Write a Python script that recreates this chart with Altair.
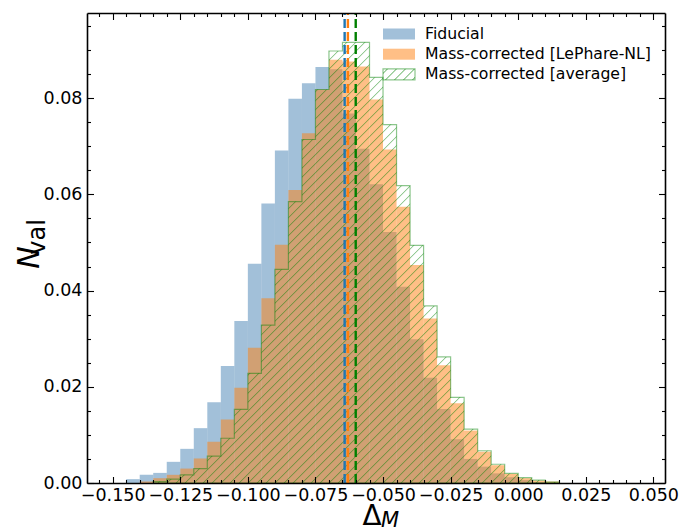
import numpy as np
import pandas as pd
import altair as alt

# ---------------- data ----------------
SERIES = ["Fiducial", "Mass-corrected [LePhare-NL]", "Mass-corrected [average]"]
BIN_START = [-0.150, -0.145, -0.140, -0.135, -0.130, -0.125, -0.120, -0.115, -0.110, -0.105,
             -0.100, -0.095, -0.090, -0.085, -0.080, -0.075, -0.070, -0.065, -0.060, -0.055,
             -0.050, -0.045, -0.040, -0.035, -0.030, -0.025, -0.020, -0.015, -0.010, -0.005,
             0.000, 0.005, 0.010]
BIN_WIDTH = 0.005
FIDUCIAL = [0.0, 0.0008, 0.0017, 0.0021, 0.0044, 0.0071, 0.0114, 0.0168, 0.0243, 0.0337,
            0.0456, 0.0581, 0.0691, 0.0799, 0.0831, 0.0865, 0.0860, 0.0768, 0.0695, 0.0621,
            0.0522, 0.0408, 0.0299, 0.0219, 0.0154, 0.0091, 0.0050, 0.0034, 0.0020, 0.0012,
            0.0006, 0.0002, 0.0]
LEPHARE = [0.0, 0.0, 0.0003, 0.0010, 0.0017, 0.0030, 0.0051, 0.0086, 0.0132, 0.0198,
           0.0281, 0.0384, 0.0495, 0.0609, 0.0727, 0.0818, 0.0880, 0.0876, 0.0866, 0.0797,
           0.0693, 0.0574, 0.0453, 0.0342, 0.0245, 0.0166, 0.0109, 0.0065, 0.0037, 0.0019,
           0.0010, 0.0005, 0.0003]
AVERAGE = [0.0, 0.0, 0.0, 0.0003, 0.0008, 0.0017, 0.0030, 0.0056, 0.0093, 0.0153,
           0.0228, 0.0328, 0.0444, 0.0585, 0.0714, 0.0818, 0.0898, 0.0916, 0.0916, 0.0843,
           0.0745, 0.0618, 0.0494, 0.0368, 0.0262, 0.0178, 0.0112, 0.0067, 0.0039, 0.0020,
           0.0011, 0.0006, 0.0002]
MEANS = [-0.0642, -0.0630, -0.0601]

X_MAJOR = [-0.150, -0.125, -0.100, -0.075, -0.050, -0.025, 0.000, 0.025, 0.050]
Y_MAJOR = [0.00, 0.02, 0.04, 0.06, 0.08]
X_DOMAIN = [-0.1595, 0.0543]
Y_DOMAIN = [0.0, 0.0977]
X_TITLE, X_SUB = "Δ", "M"
Y_TITLE, Y_SUB = "N", "val"

# ---------------- layout / style ----------------
W, H = 578, 470
FONT = "DejaVu Sans"
BLUE_FILL = "rgba(70,130,180,0.5)"
ORANGE_FILL = "rgba(255,127,14,0.5)"
HATCH = "rgba(0,128,0,0.42)"
EDGE = "rgba(0,128,0,0.45)"
CLEAR = "rgba(0,128,0,0)"
LINE_COLORS = ["#1f77b4", "#ff7f0e", "#008000"]

X_MINOR = np.round(np.arange(-0.155, 0.0501, 0.005), 3).tolist()
Y_MINOR = np.round(np.arange(0.0, 0.0951, 0.005), 3).tolist()
X_TICK_EXPR = "abs(round(datum.value*1000)) % 25 == 0 ? 6.5 : 3.5"
Y_TICK_EXPR = "abs(round(datum.value*1000)) % 20 == 0 ? 6.5 : 3.5"


def hatch_stops(L, spacing, half):
    stops = [{"offset": 0.0, "color": CLEAR}]
    c = spacing * 0.5
    while c + half < L:
        for off, col in ((c - half, CLEAR), (c - half * 0.3, HATCH),
                         (c + half * 0.3, HATCH), (c + half, CLEAR)):
            stops.append({"offset": round(min(1.0, max(0.0, off / L)), 5), "color": col})
        c += spacing
    stops.append({"offset": 1.0, "color": CLEAR})
    return stops


def hatch_geometry(bw, bh):
    L = bw + bh
    k = L / (bw * bw + bh * bh)
    return L, k * bw, k * bh


# ---------------- tables ----------------
n = len(BIN_START)
bars_df = pd.DataFrame({
    "series": [SERIES[0]] * n + [SERIES[1]] * n,
    "start": BIN_START * 2,
    "end": [s + BIN_WIDTH for s in BIN_START] * 2,
    "value": FIDUCIAL + LEPHARE,
})
bars_df = bars_df[bars_df["value"] > 0]

nz = [i for i, v in enumerate(AVERAGE) if v > 0]
i0, i1 = nz[0], nz[-1]
area_df = pd.DataFrame({
    "x": BIN_START[i0:i1 + 1] + [BIN_START[i1] + BIN_WIDTH],
    "y": AVERAGE[i0:i1 + 1] + [AVERAGE[i1]],
})

px_x = W / (X_DOMAIN[1] - X_DOMAIN[0])
px_y = H / (Y_DOMAIN[1] - Y_DOMAIN[0])
bw = (area_df["x"].max() - area_df["x"].min()) * px_x
bh = max(AVERAGE) * px_y
L, gx2, gy2 = hatch_geometry(bw, bh)
AREA_GRADIENT = {"gradient": "linear", "x1": 0, "y1": 0, "x2": gx2, "y2": gy2,
                 "stops": hatch_stops(L, 9.0, 1.15)}

# legend swatch gradient (32 x 11 px swatch)
SW, SH = 32.0, 11.0
Ls, lx2, ly2 = hatch_geometry(SW, SH)
leg_stops = hatch_stops(Ls, 9.0, 1.15)
LEG_EXPR = "{gradient: 'linear', x1: 0, y1: 0, x2: %.5f, y2: %.5f, stops: [%s]}" % (
    lx2, ly2, ", ".join("{offset: %.5f, color: '%s'}" % (s["offset"], s["color"]) for s in leg_stops))

rules_df = pd.DataFrame({"series": SERIES, "mean": MEANS})

# ---------------- scales / axes ----------------
xs = alt.Scale(domain=X_DOMAIN, nice=False, zero=False)
ys = alt.Scale(domain=Y_DOMAIN, nice=False, zero=True)

common = dict(grid=False, zindex=1, domainColor="black", domainWidth=1.6,
              tickColor="black", tickWidth=1.1)

x_label_axis = alt.Axis(orient="bottom", values=X_MAJOR, format=".3f", ticks=False, tickSize=0,
                        domain=True, labelFont=FONT, labelFontSize=17.5, labelColor="black",
                        labelPadding=3, labelFlush=False, labelOverlap=False,
                        title=X_TITLE, titleFont=FONT, titleFontSize=28, titleFontWeight="normal",
                        titleColor="black", titleX=284.5, titleY=33, titleAlign="center",
                        titleBaseline="middle", titleAngle=0, **common)
y_label_axis = alt.Axis(orient="left", values=Y_MAJOR, format=".2f", ticks=False, tickSize=0,
                        domain=True, labelFont=FONT, labelFontSize=17.5, labelColor="black",
                        labelPadding=5, labelFlush=False, labelOverlap=False,
                        title=Y_TITLE, titleFont=FONT, titleFontSize=30, titleFontWeight="normal",
                        titleFontStyle="italic", titleColor="black", titleX=-57.5, titleY=244,
                        titleAlign="center", titleBaseline="middle", titleAngle=270, **common)
x_bottom_ticks = alt.Axis(orient="top", offset=-H, values=X_MINOR, tickSize={"expr": X_TICK_EXPR},
                          labels=False, domain=False, title=None, **common)
y_left_ticks = alt.Axis(orient="right", offset=-W, values=Y_MINOR, tickSize={"expr": Y_TICK_EXPR},
                        labels=False, domain=False, title=None, **common)
x_top_ticks = alt.Axis(orient="bottom", offset=-H, values=X_MINOR, tickSize={"expr": X_TICK_EXPR},
                       labels=False, domain=True, title=None, **common)
y_right_ticks = alt.Axis(orient="left", offset=-W, values=Y_MINOR, tickSize={"expr": Y_TICK_EXPR},
                         labels=False, domain=True, title=None, **common)

LEG = alt.Legend(title=None, orient="none", legendX=301, legendY=10,
                 symbolType="M-1.6,-0.55H1.6V0.55H-1.6Z", symbolSize=400,
                 symbolStrokeWidth=1.2, symbolOpacity=1,
                 labelFont=FONT, labelFontSize=15.7, labelColor="black",
                 labelOffset=15, rowPadding=1.2, padding=0, labelLimit=400)

# ---------------- layers ----------------
bars = alt.Chart(bars_df).mark_bar(opacity=1).encode(
    x=alt.X("start:Q", scale=xs, axis=x_label_axis),
    x2="end:Q",
    y=alt.Y("value:Q", scale=ys, axis=y_label_axis),
    y2=alt.Y2(datum=0),
    fill=alt.Fill("series:N", scale=alt.Scale(domain=SERIES,
                  range=[BLUE_FILL, ORANGE_FILL, {"expr": LEG_EXPR}]), legend=LEG),
    stroke=alt.Stroke("series:N", scale=alt.Scale(domain=SERIES,
                      range=["rgba(0,0,0,0)", "rgba(0,0,0,0)", EDGE]), legend=LEG),
)

area = alt.Chart(area_df).mark_area(interpolate="step-after", fill=AREA_GRADIENT,
                                    stroke=EDGE, strokeWidth=1.2, opacity=1).encode(
    x=alt.X("x:Q", scale=xs, axis=x_bottom_ticks),
    y=alt.Y("y:Q", scale=ys, axis=y_left_ticks),
)

rules = alt.Chart(rules_df).mark_rule(strokeDash=[9, 4], strokeWidth=2.4).encode(
    x=alt.X("mean:Q", scale=xs, axis=x_top_ticks),
    y=alt.Y(datum=Y_DOMAIN[0], scale=ys, axis=y_right_ticks),
    y2=alt.Y2(datum=Y_DOMAIN[1]),
    color=alt.Color("series:N", scale=alt.Scale(domain=SERIES, range=LINE_COLORS), legend=None),
)

ysub = alt.Chart(pd.DataFrame({"t": [Y_SUB]})).mark_text(
    font=FONT, fontSize=24, angle=270, align="center", baseline="middle", color="black").encode(
    text="t:N", x=alt.value(-49), y=alt.value(224))

xsub = alt.Chart(pd.DataFrame({"t": [X_SUB]})).mark_text(
    font=FONT, fontSize=21, fontStyle="italic", align="center", baseline="middle",
    color="black").encode(text="t:N", x=alt.value(303), y=alt.value(508))

chart = alt.layer(bars, area, rules, ysub, xsub).resolve_axis(
    x="independent", y="independent"
).properties(
    width=W, height=H,
    padding={"left": 79, "top": 5, "right": 21, "bottom": 47},
    autosize=alt.AutoSizeParams(type="none"),
).configure_view(stroke=None)

chart.save("out.html", embed_options={"renderer": "svg", "actions": False})
